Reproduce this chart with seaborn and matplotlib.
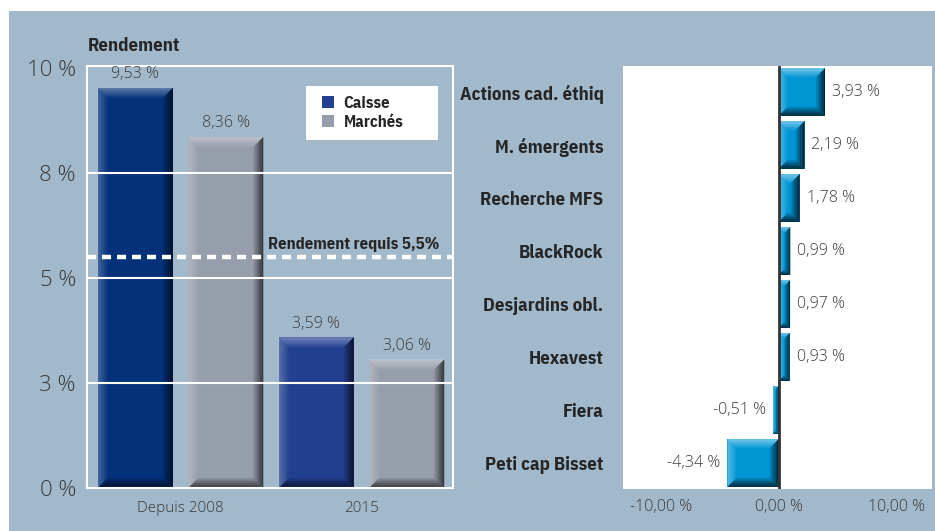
import matplotlib
matplotlib.use("Agg")
import matplotlib.pyplot as plt
import seaborn as sns
import pandas as pd
from matplotlib.patches import Rectangle, Polygon, Patch

# ---------------- data ----------------
periods = ["Depuis 2008", "2015"]
caisse = [9.53, 3.59]
marches = [8.36, 3.06]
required_return = 5.5
left_ticks = [0, 2.5, 5, 7.5, 10]
left_tick_labels = ["0 %", "3 %", "5 %", "8 %", "10 %"]

funds = ["Actions cad. éthiq", "M. émergents", "Recherche MFS", "BlackRock",
         "Desjardins obl.", "Hexavest", "Fiera", "Peti cap Bisset"]
fund_returns = [3.93, 2.19, 1.78, 0.99, 0.97, 0.93, -0.51, -4.34]
right_ticks = [-10, 0, 10]
right_tick_labels = ["-10,00 %", "0,00 %", "10,00 %"]

# ---------------- style ----------------
BG = "#a2b9cb"
TXT = "#3a3a3a"
DARKTXT = "#262626"
NAVY_2008 = "#03317a"
NAVY_2015 = "#233f8f"
GREY = "#979eab"
CYAN = "#0096d6"

sns.set_theme(style="white")
plt.rcParams["font.family"] = ["Open Sans", "DejaVu Sans"]
plt.rcParams["font.weight"] = 300
plt.rcParams["lines.scale_dashes"] = False
BOLD = ["IBM Plex Sans Condensed", "DejaVu Sans"]


def fmt(v):
    return f"{v:.2f} %".replace(".", ",")


def bevel(ax, patch, b, light_a=0.35, dark_a=0.65, steps=6):
    tr = ax.transData
    x, y, w, h = patch.get_x(), patch.get_y(), patch.get_width(), patch.get_height()
    (xa, ya) = tr.transform((x, y))
    (xb, yb) = tr.transform((x + w, y + h))
    x0, x1 = min(xa, xb), max(xa, xb)
    y0, y1 = min(ya, yb), max(ya, yb)
    b = min(b, (x1 - x0) / 2.0, (y1 - y0) / 2.0)
    inv = tr.inverted()
    for k in range(steps):
        t0 = b * k / steps
        t1 = b * (k + 1) / steps
        f = 1.0 - k / steps
        sides = [
            ([(x0 + t0, y1 - t0), (x1 - t0, y1 - t0), (x1 - t1, y1 - t1), (x0 + t1, y1 - t1)], "white", light_a * f),
            ([(x0 + t0, y0 + t0), (x0 + t0, y1 - t0), (x0 + t1, y1 - t1), (x0 + t1, y0 + t1)], "white", light_a * 0.7 * f),
            ([(x1 - t0, y0 + t0), (x1 - t0, y1 - t0), (x1 - t1, y1 - t1), (x1 - t1, y0 + t1)], "black", dark_a * f),
            ([(x0 + t0, y0 + t0), (x1 - t0, y0 + t0), (x1 - t1, y0 + t1), (x0 + t1, y0 + t1)], "black", dark_a * f),
        ]
        for pts, col, a in sides:
            ax.add_patch(Polygon(inv.transform(pts), closed=True, facecolor=col,
                                 edgecolor="none", alpha=a, zorder=2.5))


fig = plt.figure(figsize=(9.35, 5.31), dpi=100)
fig.patch.set_facecolor("white")
fig.add_artist(Rectangle((9 / 935, 0), 1, (531 - 11) / 531, transform=fig.transFigure,
                         facecolor=BG, edgecolor="none", zorder=-10))

# ---------------- left chart ----------------
ax1 = fig.add_axes([87 / 935, 43 / 531, 366 / 935, 422 / 531])
ax1.set_facecolor("none")
df = pd.DataFrame({
    "period": periods * 2,
    "series": ["Caisse"] * len(periods) + ["Marchés"] * len(periods),
    "value": caisse + marches,
})
sns.barplot(data=df, x="period", y="value", hue="series",
            palette={"Caisse": NAVY_2008, "Marchés": GREY}, saturation=1,
            width=1.0, gap=0.17, legend=False, ax=ax1, zorder=2,
            edgecolor="none", linewidth=0)
ax1.containers[0][1].set_facecolor(NAVY_2015)
ax1.set_xlim(-0.517, 1.506)
ax1.set_ylim(0, 10.05)
ax1.set_xlabel("")
ax1.set_ylabel("")
ax1.set_yticks(left_ticks, left_tick_labels)
ax1.tick_params(axis="y", length=0, pad=8, labelsize=16, labelcolor=TXT)
ax1.tick_params(axis="x", length=0, pad=9, labelsize=11, labelcolor=TXT)
for s in ax1.spines.values():
    s.set_visible(True)
    s.set_color("white")
    s.set_linewidth(1.5)
for yv in left_ticks[1:-1]:
    ax1.axhline(yv, color="white", lw=1.5, zorder=5)
for cont in ax1.containers:
    ax1.bar_label(cont, labels=[fmt(v) for v in cont.datavalues], padding=4,
                  fontsize=11.5, color=TXT)
for p in ax1.patches[:]:
    if isinstance(p, Rectangle):
        bevel(ax1, p, 10)

ax1.axhline(required_return, color="white", lw=3.2, ls=(0, (6.5, 4.3)), zorder=6)
ax1.annotate(f"Rendement requis {required_return:.1f}%".replace(".", ","),
             xy=(0.962, required_return), xycoords=("axes fraction", "data"),
             xytext=(0, 5.5), textcoords="offset points", ha="right", va="baseline",
             fontsize=12, fontweight="bold", family=BOLD, color=DARKTXT, zorder=7)

# legend box
ax1.add_patch(Rectangle((0.598, 0.8246), 0.361, 0.128, transform=ax1.transAxes,
                        facecolor="white", edgecolor="none", zorder=7))
handles = [Patch(facecolor=NAVY_2015, edgecolor="none", label="Caisse"),
           Patch(facecolor=GREY, edgecolor="none", label="Marchés")]
leg = ax1.legend(handles=handles, loc="upper left", bbox_to_anchor=(0.642, 0.929),
                 frameon=False, handlelength=0.75, handleheight=0.75, handletextpad=0.55,
                 labelspacing=0.22, borderpad=0, borderaxespad=0,
                 prop={"family": BOLD, "weight": "bold", "size": 12})
leg.set_zorder(8)
for t in leg.get_texts():
    t.set_color(DARKTXT)

fig.text(88 / 935, 1 - 46 / 531, "Rendement", ha="left", va="center",
         fontsize=13.5, fontweight="bold", family=BOLD, color=DARKTXT)

# ---------------- right chart ----------------
ax2 = fig.add_axes([623 / 935, 42 / 531, 309 / 935, 423 / 531])
ax2.set_facecolor("white")
sns.barplot(x=fund_returns, y=funds, orient="h", color=CYAN, saturation=1,
            width=0.9, ax=ax2, zorder=2, edgecolor="none", linewidth=0)
ax2.set_xlim(-13.2, 13.0)
ax2.set_ylim(7.49, -0.49)
ax2.set_xlabel("")
ax2.set_ylabel("")
for s in ax2.spines.values():
    s.set_visible(False)
ax2.set_xticks(right_ticks, right_tick_labels)
ax2.tick_params(axis="x", length=0, pad=7, labelsize=11.5, labelcolor=TXT)
ax2.tick_params(axis="y", length=0, pad=14, labelsize=13.5, labelcolor=DARKTXT)
for t in ax2.get_yticklabels():
    t.set_fontweight("bold")
    t.set_family(BOLD)
ax2.axvline(0, color="#333333", lw=2, zorder=6)
ax2.bar_label(ax2.containers[0], labels=[fmt(v) for v in fund_returns], padding=5,
              fontsize=11.5, color=TXT)
for p in ax2.patches[:]:
    if isinstance(p, Rectangle):
        bevel(ax2, p, 9, light_a=0.45, dark_a=0.75)

fig.savefig("out.png", dpi=100, facecolor=fig.get_facecolor())
